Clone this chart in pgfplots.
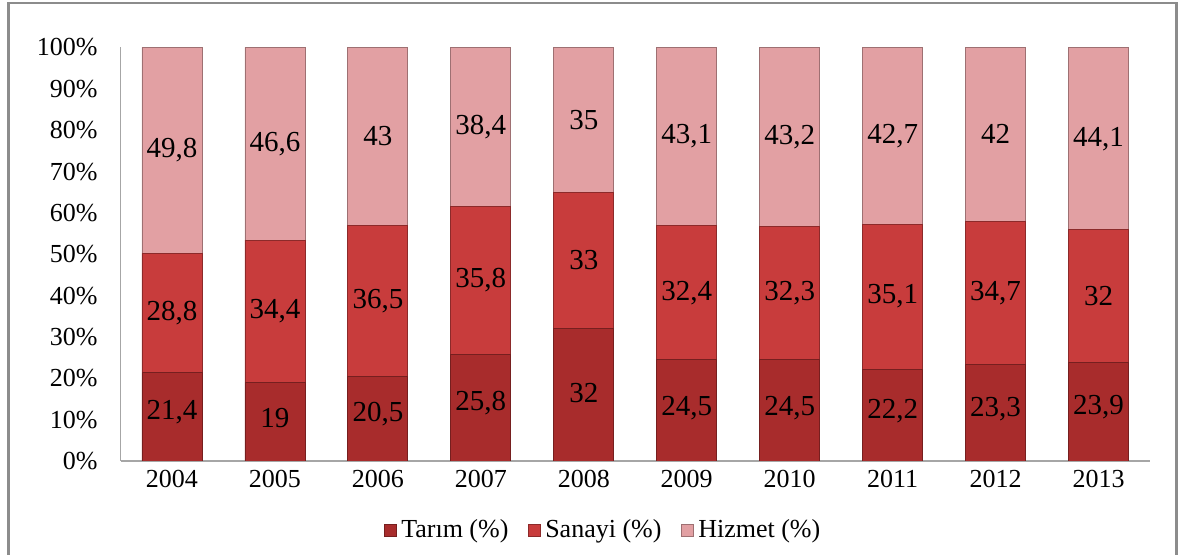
\documentclass[border=0pt]{standalone}
\usepackage{fontspec}
\setmainfont{Liberation Serif}
\usepackage{pgfplots}
\usepackage{pgfplotstable}
\pgfplotsset{compat=1.18}
\definecolor{tarim}{RGB}{168,44,44}
\definecolor{sanayi}{RGB}{200,60,60}
\definecolor{hizmet}{RGB}{226,160,163}
\definecolor{frame}{RGB}{140,140,140}
\pgfplotstableread{
x tarim sanayi hizmet
0 21.4 28.8 49.8
1 19.0 34.4 46.6
2 20.5 36.5 43.0
3 25.8 35.8 38.4
4 32.0 33.0 35.0
5 24.5 32.4 43.1
6 24.5 32.3 43.2
7 22.2 35.1 42.7
8 23.3 34.7 42.0
9 23.9 32.0 44.1
}\datatable
\pgfplotstableread{
x y l
0 11.7 {21,4}
1 10.5 {19}
2 11.25 {20,5}
3 13.9 {25,8}
4 16.5 {32}
5 12.75 {24,5}
6 12.75 {24,5}
7 12.1 {22,2}
8 12.65 {23,3}
9 12.95 {23,9}
0 35.8 {28,8}
1 36.2 {34,4}
2 38.75 {36,5}
3 43.7 {35,8}
4 48.5 {33}
5 40.7 {32,4}
6 40.65 {32,3}
7 39.75 {35,1}
8 40.65 {34,7}
9 39.9 {32}
0 75.1 {49,8}
1 76.7 {46,6}
2 78.5 {43}
3 80.8 {38,4}
4 82.5 {35}
5 78.45 {43,1}
6 78.4 {43,2}
7 78.65 {42,7}
8 79.0 {42}
9 77.95 {44,1}
}\labeltable
\begin{document}
\begin{tikzpicture}[font=\fontsize{13}{15}\selectfont]
\useasboundingbox (0pt,0pt) rectangle (590.5pt,277.5pt);
\draw[frame, line width=1.2pt] (4.25pt,-5pt) rectangle (588.25pt,276pt);
\begin{axis}[
  at={(60.25pt,47pt)}, anchor=south west,
  scale only axis, width=514.75pt, height=206.75pt,
  ybar stacked, bar width=0.583,
  xmin=-0.5, xmax=9.5, ymin=0, ymax=100,
  xtick={0,...,9},
  xticklabels={2004,2005,2006,2007,2008,2009,2010,2011,2012,2013},
  ytick={0,10,...,100},
  yticklabel={\pgfmathprintnumber{\tick}\%},
  /pgf/number format/assume math mode=true,
  major tick length=0pt,
  axis x line*=bottom, axis y line*=left,
  axis line style={draw=gray!70, line width=0.6pt},
  yticklabel style={xshift=-8pt},
  xticklabel style={yshift=-1pt},
  legend style={at={(0.47,-0.167)}, anchor=center, draw=none, fill=none,
    legend columns=3, /tikz/every even column/.append style={column sep=8pt},
    font=\fontsize{13}{15}\selectfont},
  legend image code/.code={\draw[#1] (0pt,-3pt) rectangle (6pt,3pt);},
]
\addplot[fill=tarim, draw=tarim!70!black, line width=0.4pt] table[x=x,y=tarim] {\datatable};
\addlegendentry{Tarım (\%)}
\addplot[fill=sanayi, draw=sanayi!70!black, line width=0.4pt] table[x=x,y=sanayi] {\datatable};
\addlegendentry{Sanayi (\%)}
\addplot[fill=hizmet, draw=hizmet!70!black, line width=0.4pt] table[x=x,y=hizmet] {\datatable};
\addlegendentry{Hizmet (\%)}
\end{axis}
\begin{axis}[
  at={(60.25pt,47pt)}, anchor=south west,
  scale only axis, width=514.75pt, height=206.75pt,
  xmin=-0.5, xmax=9.5, ymin=0, ymax=100,
  hide axis,
]
\addplot[only marks, mark=none, nodes near coords, point meta=explicit symbolic,
  every node near coord/.style={anchor=center, inner sep=0pt, text=black,
  font=\fontsize{14.5}{16}\selectfont}]
  table[x=x, y=y, meta=l] {\labeltable};
\end{axis}
\end{tikzpicture}
\end{document}
